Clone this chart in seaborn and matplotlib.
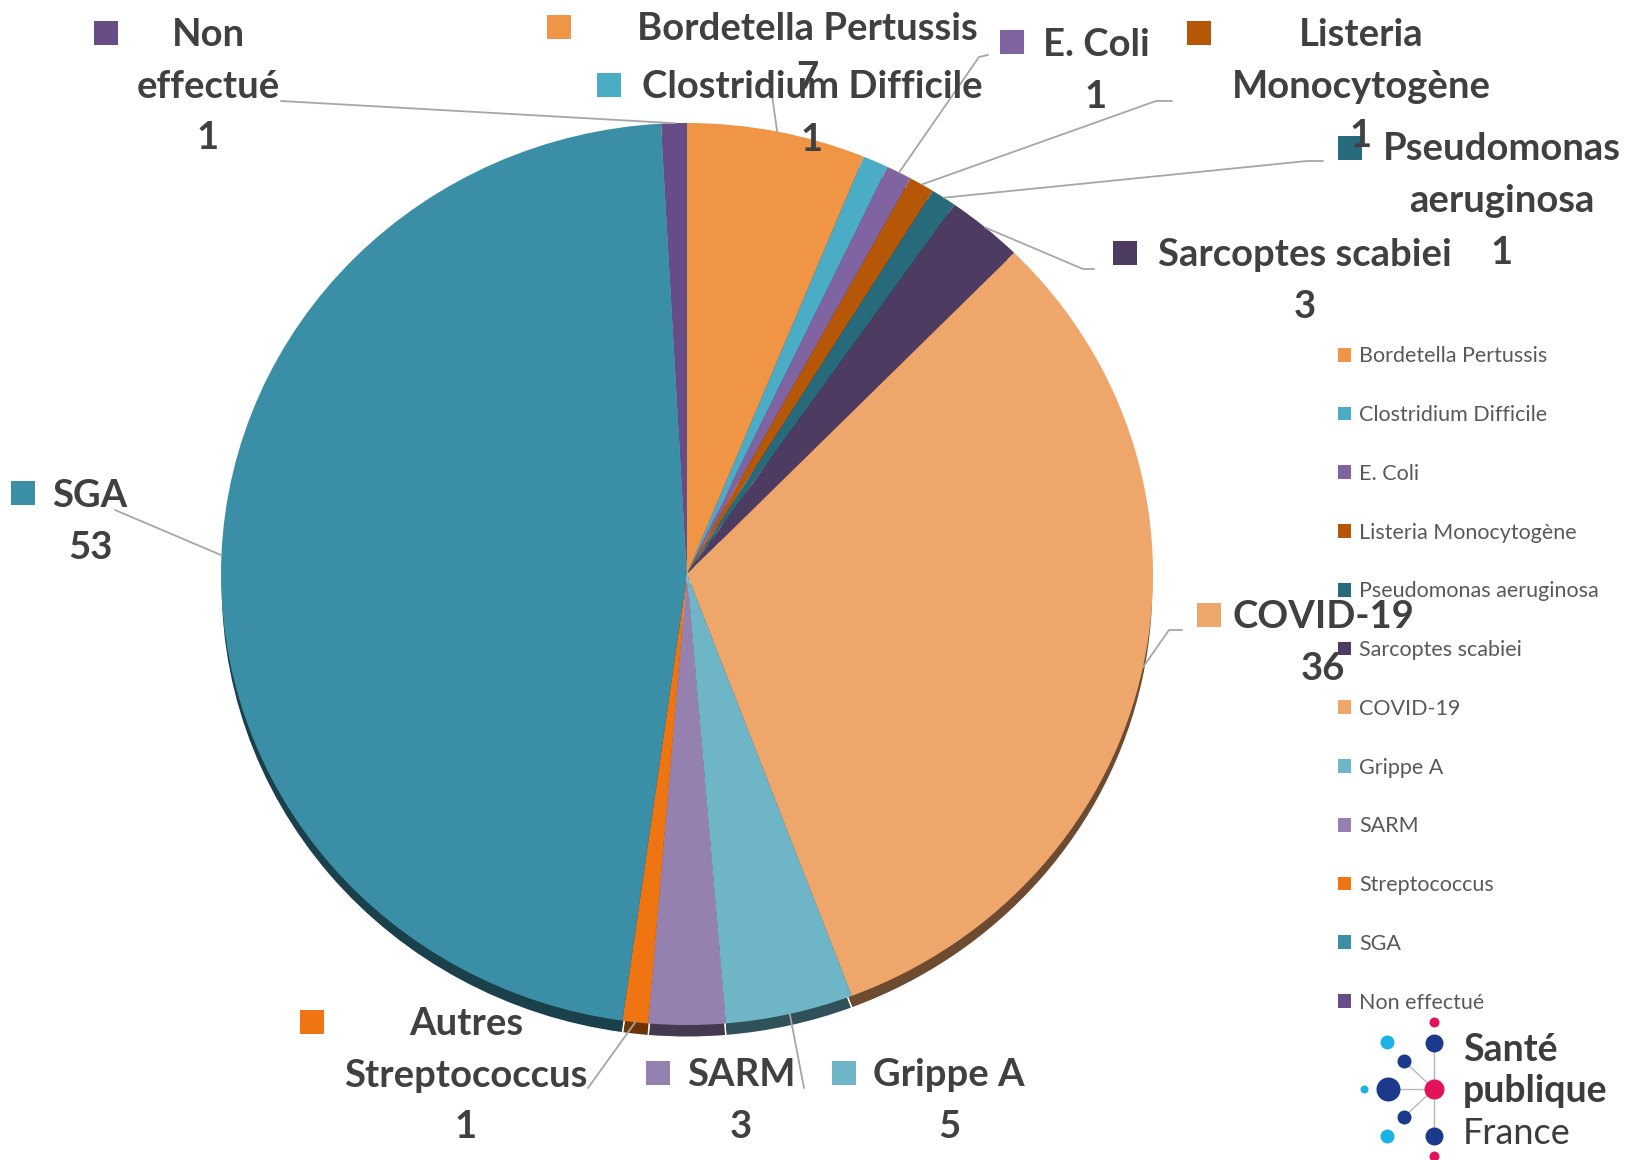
import numpy as np
import matplotlib
matplotlib.use("Agg")
import matplotlib.pyplot as plt
import matplotlib.colors as mcolors
from matplotlib.patches import Patch
import seaborn as sns

sns.set_theme(style="white")
plt.rcParams['font.family'] = ['Lato', 'DejaVu Sans']

# data
categories = ["Bordetella Pertussis", "Clostridium Difficile", "E. Coli",
              "Listeria Monocytogène", "Pseudomonas aeruginosa", "Sarcoptes scabiei",
              "COVID-19", "Grippe A", "SARM", "Streptococcus", "SGA", "Non effectué"]
values = [7, 1, 1, 1, 1, 3, 36, 5, 3, 1, 53, 1]
label_names = ["Bordetella Pertussis", "Clostridium Difficile", "E. Coli",
               "Listeria\nMonocytogène", "Pseudomonas\naeruginosa", "Sarcoptes scabiei",
               "COVID-19", "Grippe A", "SARM", "Autres\nStreptococcus", "SGA", "Non\neffectué"]
colors = ["#F09446", "#4BACC6", "#8064A2", "#B65708", "#276A7C", "#4D3B62",
          "#EFA66B", "#6DB5C7", "#9581B0", "#EF7512", "#3A8FA6", "#664D85"]

# label layout in pixels: square (x, y), text centre x, first line y, value y
label_pos = [
    ((559, 27), 807, 29, 78),
    ((609, 85), 812, 87, 140),
    ((1012, 42), 1096, 45, 97),
    ((1199, 33), 1361, 35, 136),
    ((1350, 148), 1502, 149, 253),
    ((1125, 253), 1305, 255, 307),
    ((1209, 615), 1323, 617, 669),
    ((844, 1073), 949, 1075, 1127),
    ((658, 1073), 741, 1075, 1127),
    ((312, 1022), 466, 1024, 1127),
    ((23, 493), 90, 496, 548),
    ((106, 33), 208, 35, 138),
]
# leader line points (after the rim point), None = no line
leaders = [
    [(769, 73)],
    None,
    [(979, 57), (988, 55)],
    [(1156, 101), (1172, 101)],
    [(1307, 161), (1323, 161)],
    [(1083, 269), (1094, 269)],
    [(1169, 630), (1182, 630)],
    [(804, 1088)],
    None,
    [(588, 1088)],
    [(115, 510)],
    [(281, 101)],
]

W, H = 1633, 1160
fig = plt.figure(figsize=(W / 100, H / 100), dpi=100)
fig.patch.set_facecolor("white")

cx, cy, rx, ry = 687, 574, 466, 451
ax = fig.add_axes([(cx - rx) / W, 1 - (cy + ry) / H, 2 * rx / W, 2 * ry / H])

# shadow under the pie
shadow = [tuple(np.array(mcolors.to_rgb(c)) * 0.45) for c in colors]
sw, _ = ax.pie(values, colors=shadow, startangle=90, counterclock=False,
               center=(0, -0.027), radius=1)
for w in sw:
    w.set_clip_on(False)
wedges, _ = ax.pie(values, colors=colors, startangle=90, counterclock=False,
                   radius=1, wedgeprops=dict(linewidth=0))
ax.set_xlim(-1, 1)
ax.set_ylim(-1, 1)
ax.set_aspect("auto")
ax.axis("off")

# overlay in pixel coordinates
ov = fig.add_axes([0, 0, 1, 1])
ov.set_xlim(0, W)
ov.set_ylim(H, 0)
ov.axis("off")

txt_col = "#404040"
line_col = "#A6A6A6"
fs = 27.5

for i, w in enumerate(wedges):
    mid = np.deg2rad((w.theta1 + w.theta2) / 2)
    rim = (cx + rx * np.cos(mid), cy - ry * np.sin(mid))
    if leaders[i] is not None:
        pts = [rim] + leaders[i]
        ov.plot([p[0] for p in pts], [p[1] for p in pts], color=line_col, lw=1.3)
    (sqx, sqy), tx, ty, vy = label_pos[i]
    ov.scatter([sqx], [sqy], marker="s", s=300, color=colors[i], linewidths=0)
    for j, line in enumerate(label_names[i].split("\n")):
        ov.text(tx, ty + j * 52, line, ha="center", va="center", fontsize=fs,
                fontweight="bold", color=txt_col)
    ov.text(tx, vy, str(values[i]), ha="center", va="center", fontsize=fs,
            fontweight="bold", color=txt_col)

# legend on the right
handles = [Patch(facecolor=c, edgecolor="none") for c in colors]
leg = fig.legend(handles, categories, loc="upper left", bbox_to_anchor=(1319 / W, 1 - 327 / H),
                 frameon=False, labelspacing=1.80, handlelength=0.6,
                 handleheight=0.6, handletextpad=0.35, labelcolor="#595959",
                 prop={"family": ["Lato", "DejaVu Sans"], "size": 15.5})

# Santé publique France logo
navy, pink, sky = "#1B3A8C", "#E3135A", "#1BB3E6"
logo_dots = [(1434, 1022, 5, pink), (1434, 1043, 9, navy), (1387, 1042, 7, sky),
             (1404, 1061, 7, navy), (1388, 1089, 12, navy), (1364, 1089, 4, sky),
             (1434, 1089, 10, pink), (1404, 1117, 7, navy), (1387, 1136, 7, sky),
             (1434, 1136, 9, navy), (1434, 1156, 5, pink)]
for (x0, y0) in [(1404, 1061), (1388, 1089), (1404, 1117)]:
    ov.plot([x0, 1434], [y0, 1089], color="#B8B8B8", lw=1)
ov.plot([1434, 1434], [1043, 1136], color="#B8B8B8", lw=1)
for x0, y0, r, c in logo_dots:
    ov.scatter([x0], [y0], s=(r * 1.44) ** 2, color=c, linewidths=0, zorder=3)
ov.text(1463, 1050, "Santé", fontsize=27, fontweight="bold", color="#3C3C3C",
        va="center", ha="left")
ov.text(1463, 1091, "publique", fontsize=27, fontweight="bold", color="#3C3C3C",
        va="center", ha="left")
ov.text(1463, 1134, "France", fontsize=26, color="#3C3C3C",
        va="center", ha="left")

fig.savefig("out.png", dpi=100)
